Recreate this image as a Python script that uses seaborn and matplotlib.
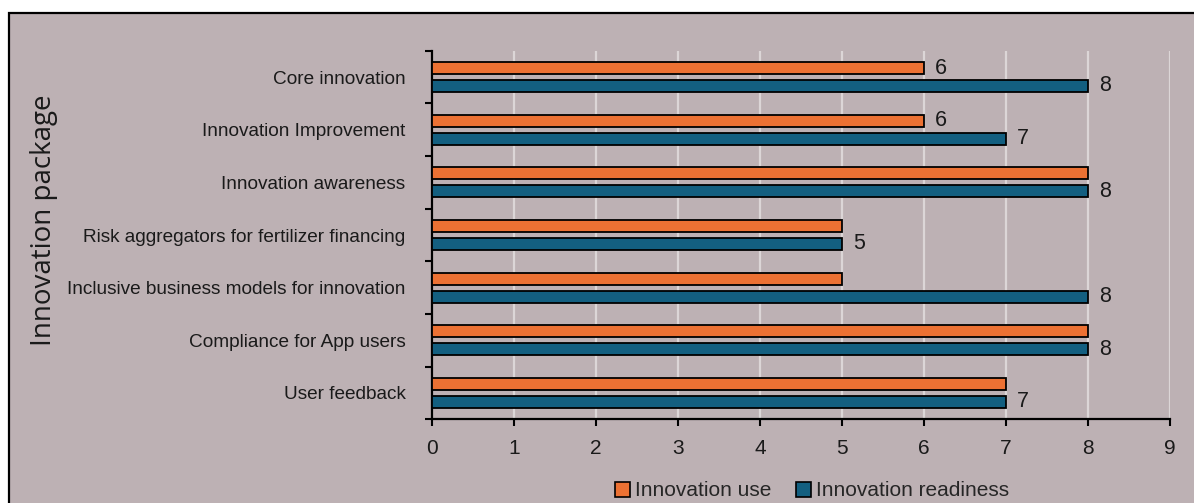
import matplotlib
matplotlib.use("Agg")
import matplotlib.pyplot as plt
from matplotlib.patches import Patch, Rectangle
from matplotlib.ticker import FixedLocator
import seaborn as sns
import pandas as pd

# ---- data ----
categories = [
    "Core innovation",
    "Innovation Improvement",
    "Innovation awareness",
    "Risk aggregators for fertilizer financing",
    "Inclusive business models for innovation",
    "Compliance for App users",
    "User feedback",
]
innovation_use = [6, 6, 8, 5, 5, 8, 7]
innovation_readiness = [8, 7, 8, 5, 8, 8, 7]
use_label_shown = [True, True, False, False, False, False, False]
readiness_label_shown = [True, True, True, True, True, True, True]
series_names = ["Innovation use", "Innovation readiness"]
x_ticks = [0, 1, 2, 3, 4, 5, 6, 7, 8, 9]
y_title = "Innovation package"

# ---- style ----
BG = "#bdb1b4"
ORANGE = "#ec7133"
BLUE = "#135f80"
SANS = ["Liberation Sans", "DejaVu Sans"]

sns.set_theme(style="white")
plt.rcParams["font.family"] = SANS

df = pd.DataFrame({
    "package": categories * 2,
    "value": innovation_use + innovation_readiness,
    "series": [series_names[0]] * len(categories) + [series_names[1]] * len(categories),
})

fig = plt.figure(figsize=(11.94, 5.03), dpi=100, facecolor="white")
W, H = 1194, 503
# figure background panel with black frame (extends past right/bottom)
fig.patches.append(Rectangle((9 / W, -0.05), 1.1, (H - 13) / H + 0.05,
                             transform=fig.transFigure, facecolor=BG,
                             edgecolor="black", linewidth=1.6, zorder=-10))

ax = fig.add_axes([432 / W, 1 - 419.3 / H, (1170 - 432) / W, (419.3 - 50.7) / H])
ax.set_facecolor(BG)

sns.barplot(data=df, y="package", x="value", hue="series", orient="h",
            order=categories, hue_order=series_names,
            palette=[ORANGE, BLUE], width=0.68, gap=0.34,
            edgecolor="black", linewidth=1.3, saturation=1,
            legend=False, ax=ax, zorder=3)

# data labels
for cont, vals, shown in zip(ax.containers,
                             [innovation_use, innovation_readiness],
                             [use_label_shown, readiness_label_shown]):
    labels = [str(v) if s else "" for v, s in zip(vals, shown)]
    ax.bar_label(cont, labels=labels, padding=8, fontsize=15.5, color="#1a1a1a")

ax.set_xlim(0, 9)
ax.set_ylim(len(categories) - 0.5, -0.5)
ax.set_xticks(x_ticks)
ax.set_xticklabels([str(t) for t in x_ticks], fontsize=15, color="#1a1a1a")
ax.tick_params(axis="x", direction="out", length=5, width=1.5, pad=9,
               color="black", bottom=True)
ax.tick_params(axis="y", which="major", length=0, pad=19, labelsize=13.7,
               labelcolor="#1a1a1a")
ax.yaxis.set_minor_locator(FixedLocator([i - 0.5 for i in range(len(categories) + 1)]))
ax.tick_params(axis="y", which="minor", direction="out", length=5, width=1.5,
               color="black", left=True)

ax.grid(axis="x", color="#dcd6d7", linewidth=1.6, zorder=0)
ax.set_axisbelow(True)
for s in ["top", "right"]:
    ax.spines[s].set_visible(False)
for s in ["left", "bottom"]:
    ax.spines[s].set_color("black")
    ax.spines[s].set_linewidth(1.6)

ax.set_xlabel("")
ax.set_ylabel(y_title, fontsize=20, family=["Open Sans", "DejaVu Sans"], color="#1a1a1a")
ax.yaxis.set_label_coords(-0.507, 0.54)

handles = [Patch(facecolor=ORANGE, edgecolor="black", linewidth=1.2),
           Patch(facecolor=BLUE, edgecolor="black", linewidth=1.2)]
fig.legend(handles, series_names, loc="center", bbox_to_anchor=(812 / W, 1 - 491 / H),
           ncol=2, frameon=False, fontsize=15, handlelength=0.7, handleheight=0.75,
           handletextpad=0.25, columnspacing=1.2, borderpad=0)

fig.savefig("out.png", dpi=100, facecolor="white")
